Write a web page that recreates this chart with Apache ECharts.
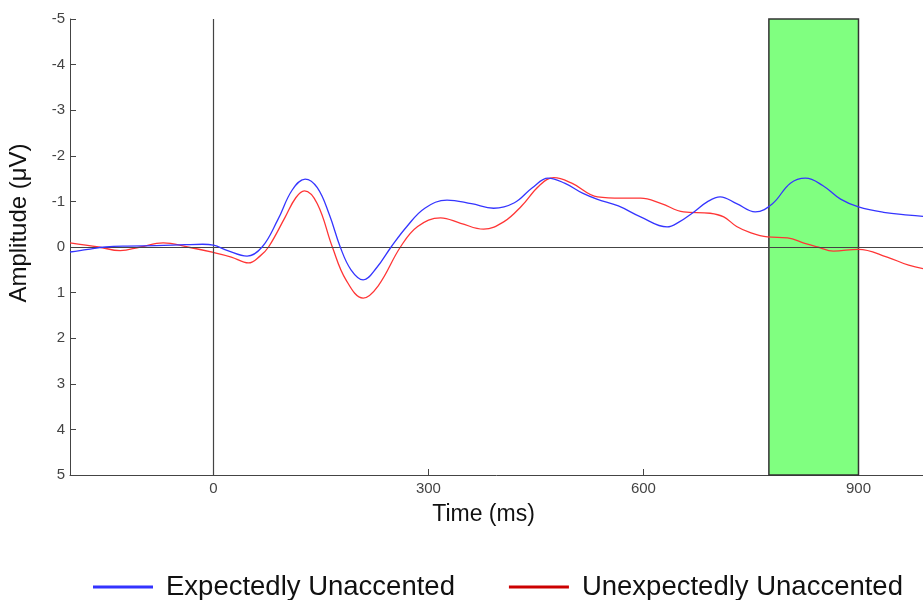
<!DOCTYPE html>
<html lang="en">
<head>
  <meta charset="UTF-8">
  <title>ERP waveforms</title>
  <script src="https://cdn.jsdelivr.net/npm/echarts@6/dist/echarts.min.js"></script>
  <style>
    body { margin: 0; background: #fff; }
  </style>
</head>
<body>
  <div id="main" style="width: 923px;height:600px;"></div>
<script>
  // Expectedly Unaccented: time (ms) and amplitude (uV, negative up)
  var blueTimes = [-200, -175, -150, -120, -80, -40, -15, 0, 20, 47, 68, 90, 110, 128, 145, 162, 177, 192, 209,
    228, 248, 270, 295, 326, 360, 391, 420, 445, 467, 490, 515, 535, 565, 596, 633, 650, 668, 690, 707, 730, 756,
    780, 805, 826, 850, 875, 900, 935, 970, 1000];
  var blueValues = [0.11, 0.05, 0.0, -0.02, -0.03, -0.05, -0.06, -0.04, 0.08, 0.2, 0.0, -0.6, -1.25, -1.49, -1.3, -0.7, 0.0, 0.5, 0.72,
    0.45, 0.0, -0.45, -0.85, -1.03, -0.95, -0.85, -0.97, -1.3, -1.51, -1.4, -1.18, -1.05, -0.9, -0.66, -0.44, -0.55, -0.74, -1.0, -1.1, -0.95, -0.77,
    -0.95, -1.4, -1.51, -1.35, -1.05, -0.88, -0.76, -0.7, -0.66];
  // Unexpectedly Unaccented
  var redTimes = [-200, -160, -130, -102, -70, -36, 0, 25, 49, 65, 77, 100, 115, 127, 145, 166, 185, 209, 230,
    261, 285, 317, 345, 377, 405, 430, 455, 475, 500, 536, 570, 596, 625, 656, 693, 712, 730, 750, 773, 801,
    825, 843, 865, 900, 940, 970, 1000];
  var redValues = [-0.09, 0.0, 0.08, 0.0, -0.09, 0.0, 0.12, 0.22, 0.35, 0.2, 0.0, -0.65, -1.08, -1.23, -0.95, 0.0, 0.72, 1.12, 0.85,
    0.0, -0.45, -0.64, -0.52, -0.39, -0.55, -0.9, -1.35, -1.52, -1.4, -1.1, -1.07, -1.07, -0.95, -0.77, -0.74, -0.66, -0.45, -0.31, -0.22, -0.2,
    -0.08, 0.0, 0.09, 0.05, 0.22, 0.4, 0.5];
  var xTicks = [0, 300, 600, 900];
  var windowRange = [775, 900];

  function pairs(xs, ys) {
    var out = [];
    for (var i = 0; i < xs.length; i++) out.push([xs[i], ys[i]]);
    return out;
  }

  var myChart = echarts.init(document.getElementById('main'));
  var option = {
    animation: false,
    textStyle: { fontFamily: 'Liberation Sans, Arial, sans-serif' },
    grid: { left: 70, right: 0, top: 19, bottom: 125, containLabel: false, outerBoundsMode: 'none' },
    legend: {
      bottom: -6,
      left: 88,
      itemWidth: 60,
      itemHeight: 3,
      itemGap: 54,
      icon: 'rect',
      textStyle: { fontSize: 27.5, color: '#111', padding: [0, 0, 0, 8] },
      data: [
        { name: 'Expectedly Unaccented', itemStyle: { color: '#3333ff' } },
        { name: 'Unexpectedly Unaccented', itemStyle: { color: '#cc0000' } }
      ]
    },
    xAxis: {
      type: 'value',
      min: -200,
      max: 990,
      interval: 100,
      name: 'Time (ms)',
      nameLocation: 'middle',
      nameGap: 28,
      nameTextStyle: { fontSize: 23, color: '#111', padding: [0, 26, 0, 0] },
      splitLine: { show: false },
      axisLine: { onZero: false, lineStyle: { color: '#444' } },
      axisTick: { inside: true, length: 6, customValues: xTicks, lineStyle: { color: '#444' } },
      axisLabel: { customValues: xTicks, fontSize: 15, color: '#444', margin: 6 }
    },
    yAxis: {
      type: 'value',
      inverse: true,
      min: -5,
      max: 5,
      interval: 1,
      name: 'Amplitude (\u03bcV)',
      nameLocation: 'middle',
      nameGap: 39,
      nameTextStyle: { fontSize: 24, color: '#111', padding: [0, 0, 0, 48] },
      splitLine: { show: false },
      axisLine: { show: true, onZero: false, lineStyle: { color: '#444' } },
      axisTick: { show: true, inside: true, length: 6, lineStyle: { color: '#444' } },
      axisLabel: { fontSize: 15, color: '#444', margin: 5 }
    },
    series: [
      {
        name: 'Expectedly Unaccented',
        type: 'line',
        smooth: 0.4,
        showSymbol: false,
        color: '#3333ff',
        lineStyle: { color: '#3535ff', width: 1.3 },
        data: pairs(blueTimes, blueValues),
        z: 5,
        markArea: {
          silent: true,
          itemStyle: { color: '#80ff80', borderColor: '#333', borderWidth: 1.5 },
          data: [[{ xAxis: windowRange[0], yAxis: -5 }, { xAxis: windowRange[1], yAxis: 5 }]]
        },
        markLine: {
          silent: true,
          symbol: 'none',
          label: { show: false },
          lineStyle: { color: '#444', type: 'solid', width: 1.2 },
          data: [{ xAxis: 0 }, { yAxis: 0 }]
        }
      },
      {
        name: 'Unexpectedly Unaccented',
        type: 'line',
        smooth: 0.4,
        showSymbol: false,
        color: '#cc0000',
        lineStyle: { color: '#ff3535', width: 1.3 },
        data: pairs(redTimes, redValues),
        z: 4
      }
    ]
  };
  myChart.setOption(option);
</script>
</body>
</html>
